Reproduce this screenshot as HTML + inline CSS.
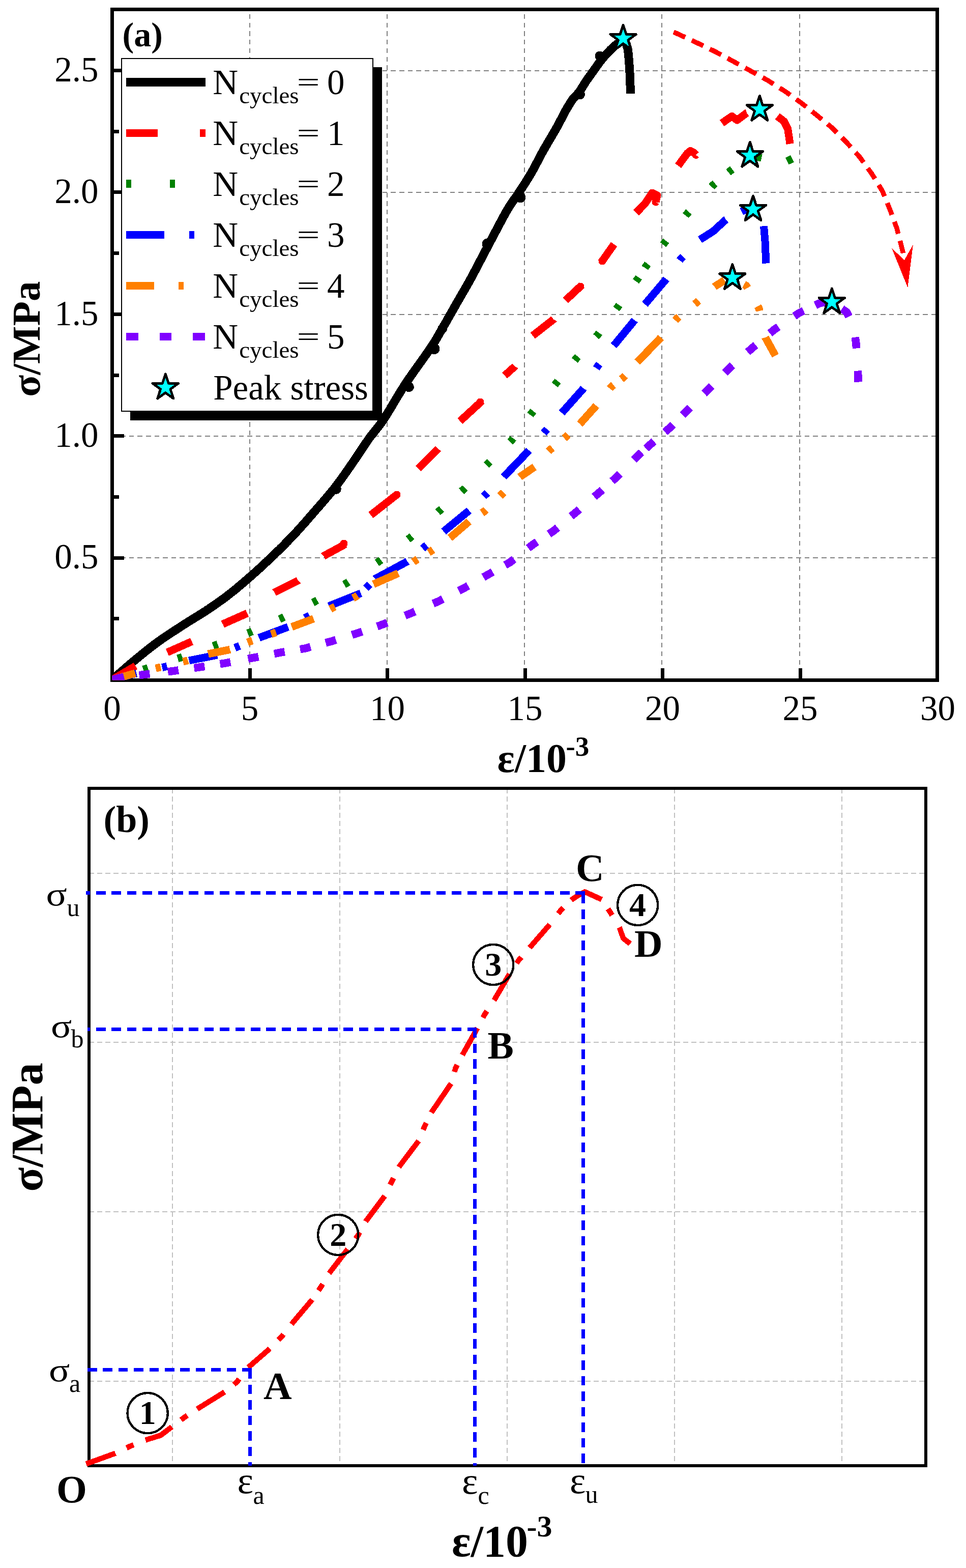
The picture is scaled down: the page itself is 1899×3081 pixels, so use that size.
<!DOCTYPE html>
<html><head><meta charset="utf-8"><title>Stress-strain curves</title>
<style>html,body{margin:0;padding:0;background:#fff;}svg{display:block;}
text{font-family:'Liberation Serif','Times New Roman',serif;}</style></head>
<body><svg width="1899" height="3081" viewBox="0 0 1899 3081" shape-rendering="crispEdges">
<rect x="0" y="0" width="1899" height="3081" fill="#fff"/>
<g stroke="#808080" stroke-width="2" fill="none" shape-rendering="crispEdges">
<path d="M491 18.5 V1333" stroke-dasharray="9.3,7.39" stroke-dashoffset="7.09"/>
<path d="M761 18.5 V1333" stroke-dasharray="9.3,7.39" stroke-dashoffset="7.09"/>
<path d="M1031 18.5 V1333" stroke-dasharray="9.3,7.39" stroke-dashoffset="7.09"/>
<path d="M1301 18.5 V1333" stroke-dasharray="9.3,7.39" stroke-dashoffset="7.09"/>
<path d="M1572 18.5 V1333" stroke-dasharray="9.3,7.39" stroke-dashoffset="7.09"/>
<path d="M220.5 139 H1839" stroke-dasharray="9.6,7"/>
<path d="M220.5 378 H1839" stroke-dasharray="9.6,7"/>
<path d="M220.5 617.5 H1839" stroke-dasharray="9.6,7"/>
<path d="M220.5 857 H1839" stroke-dasharray="9.6,7"/>
<path d="M220.5 1096 H1839" stroke-dasharray="9.6,7"/>
</g>
<g stroke="#000" stroke-width="7" fill="none">
<path d="M220.5 1096.1 H244"/>
<path d="M220.5 856.7 H244"/>
<path d="M220.5 617.3 H244"/>
<path d="M220.5 377.9 H244"/>
<path d="M220.5 138.5 H244"/>
<path d="M220.5 1215.8 H233.5"/>
<path d="M220.5 976.4 H233.5"/>
<path d="M220.5 737 H233.5"/>
<path d="M220.5 497.6 H233.5"/>
<path d="M220.5 258.2 H233.5"/>
<path d="M491 1336.5 V1313"/>
<path d="M761.5 1336.5 V1313"/>
<path d="M1032 1336.5 V1313"/>
<path d="M1302.5 1336.5 V1313"/>
<path d="M1573 1336.5 V1313"/>
</g>
<rect x="220.5" y="18.5" width="1621.5" height="1318" fill="none" stroke="#000" stroke-width="7" shape-rendering="crispEdges"/>
<clipPath id="ca"><rect x="220.5" y="18.5" width="1621.5" height="1318"/></clipPath>
<g clip-path="url(#ca)">
<path d="M220.5 1335.5 L221.7 1334.5 L223.2 1333.1 L225 1331.6 L227 1329.9 L229.2 1328 L231.4 1326 L233.8 1323.9 L236.2 1321.9 L238.6 1319.8 L240.8 1317.9 L243 1316 L244.9 1314.4 L246.6 1312.9 L248.3 1311.4 L250 1309.9 L251.7 1308.5 L253.4 1307 L255.2 1305.4 L257.1 1303.8 L259.2 1302.1 L261.4 1300.2 L263.8 1298.3 L266.4 1296.1 L268 1294.8 L269.7 1293.4 L271.4 1292 L273.2 1290.5 L275 1289 L276.9 1287.5 L278.9 1285.9 L280.8 1284.3 L282.9 1282.6 L284.9 1280.9 L287 1279.2 L289.1 1277.5 L291.3 1275.8 L293.5 1274.1 L295.7 1272.3 L297.9 1270.6 L300.2 1268.9 L302.4 1267.2 L304.7 1265.5 L307 1263.8 L309.3 1262.1 L311.3 1260.7 L313.3 1259.3 L315.3 1257.8 L317.4 1256.4 L319.5 1254.9 L321.7 1253.5 L323.8 1252 L326 1250.5 L328.3 1249 L330.5 1247.5 L332.7 1246 L335 1244.5 L337.2 1243.1 L339.5 1241.6 L341.7 1240.1 L344 1238.7 L346.2 1237.2 L348.4 1235.8 L350.6 1234.4 L352.7 1233 L354.8 1231.6 L356.9 1230.3 L358.9 1229 L360.9 1227.7 L362.9 1226.4 L365.3 1224.9 L367.6 1223.4 L369.9 1221.9 L372.1 1220.5 L374.4 1219.2 L376.5 1217.8 L378.7 1216.5 L380.8 1215.2 L382.9 1213.9 L385 1212.7 L387 1211.4 L389.1 1210.1 L391.1 1208.9 L393.2 1207.6 L395.2 1206.3 L397.3 1205 L399.4 1203.7 L401.5 1202.4 L403.6 1201 L405.7 1199.6 L407.7 1198.2 L409.8 1196.9 L411.8 1195.5 L413.9 1194.1 L415.9 1192.7 L418 1191.4 L420 1190 L422 1188.6 L424.1 1187.1 L426.1 1185.7 L428.2 1184.3 L430.2 1182.8 L432.3 1181.4 L434.3 1179.9 L436.3 1178.5 L438.4 1177 L440.4 1175.5 L442.5 1173.9 L444.5 1172.4 L446.6 1170.9 L448.6 1169.3 L450.5 1167.8 L452.5 1166.3 L454.4 1164.7 L456.4 1163.2 L458.3 1161.6 L460.3 1160.1 L462.2 1158.5 L464.2 1156.9 L466.1 1155.3 L468.1 1153.6 L470 1152 L471.9 1150.4 L473.9 1148.7 L475.8 1147.1 L477.8 1145.4 L479.7 1143.7 L481.7 1142.1 L483.6 1140.4 L485.6 1138.7 L487.5 1137 L489.5 1135.3 L491.4 1133.6 L493.3 1132 L495.1 1130.3 L497 1128.7 L498.9 1127 L500.7 1125.4 L502.6 1123.7 L504.5 1122 L506.3 1120.3 L508.2 1118.7 L510.1 1117 L511.9 1115.3 L513.8 1113.5 L515.6 1111.8 L517.5 1110.1 L519.4 1108.4 L521.2 1106.6 L523.1 1104.9 L525 1103.1 L526.8 1101.4 L528.7 1099.6 L530.6 1097.9 L532.4 1096.1 L534.3 1094.3 L536.1 1092.6 L537.9 1090.9 L539.7 1089.1 L541.4 1087.4 L543.2 1085.7 L545 1084 L546.8 1082.2 L548.6 1080.5 L550.4 1078.7 L552.1 1076.9 L553.9 1075.2 L555.7 1073.4 L557.5 1071.6 L559.3 1069.8 L561 1068 L562.8 1066.2 L564.6 1064.4 L566.4 1062.6 L568.2 1060.7 L570 1058.9 L571.7 1057 L573.5 1055.2 L575.3 1053.3 L577.1 1051.4 L578.8 1049.6 L580.5 1047.7 L582.3 1045.9 L584 1044 L585.7 1042.1 L587.5 1040.2 L589.2 1038.2 L590.9 1036.3 L592.7 1034.4 L594.4 1032.4 L596.2 1030.5 L597.9 1028.5 L599.6 1026.5 L601.4 1024.6 L603.1 1022.6 L604.8 1020.6 L606.5 1018.7 L608.2 1016.7 L610 1014.8 L611.6 1012.8 L613.3 1010.9 L615 1008.9 L616.7 1007 L618.4 1005.1 L620 1003.2 L621.7 1001.2 L623.4 999.3 L625.1 997.3 L626.8 995.4 L628.5 993.5 L630.2 991.6 L631.8 989.6 L633.5 987.7 L635.2 985.8 L636.8 983.9 L638.5 982 L640.1 980.1 L641.7 978.2 L643.4 976.3 L645 974.4 L646.6 972.5 L648.2 970.5 L649.8 968.6 L651.4 966.7 L653 964.7 L654.6 962.8 L656.2 960.8 L657.7 958.8 L659.3 956.8 L660.9 954.8 L662.4 952.7 L664 950.7 L665.5 948.6 L667.1 946.5 L668.6 944.4 L670.1 942.3 L671.7 940.2 L673.2 938.1 L674.7 936 L676.2 933.9 L677.7 931.7 L679.2 929.6 L680.7 927.5 L682.1 925.4 L683.6 923.3 L685.1 921.2 L686.5 919.1 L688 917 L689.4 914.9 L690.8 912.9 L692.2 910.8 L693.6 908.8 L695 906.8 L696.6 904.5 L698.1 902.3 L699.7 900 L701.2 897.7 L702.7 895.5 L704.2 893.3 L705.7 891 L707.2 888.8 L708.6 886.6 L710.1 884.4 L711.5 882.2 L713 880.1 L714.4 877.9 L715.8 875.8 L717.2 873.7 L718.6 871.6 L720.1 869.5 L721.5 867.4 L722.9 865.4 L724.3 863.4 L725.7 861.4 L727.3 859.2 L728.9 857.1 L730.4 855.1 L731.9 853.2 L733.4 851.3 L734.9 849.5 L736.3 847.7 L737.8 846 L739.2 844.2 L740.7 842.3 L742.2 840.4 L743.8 838.5 L745.4 836.4 L747 834.2 L748.7 831.9 L750.5 829.4 L752.4 826.8 L754.3 823.9 L755.4 822.2 L756.6 820.4 L757.7 818.6 L758.9 816.7 L760.1 814.8 L761.3 812.9 L762.6 810.9 L763.8 808.8 L765.1 806.7 L766.4 804.6 L767.7 802.4 L769 800.2 L770.3 798 L771.7 795.8 L773 793.5 L774.4 791.2 L775.7 788.9 L777.1 786.6 L778.5 784.3 L779.9 781.9 L781.3 779.6 L782.7 777.3 L784.1 774.9 L785.6 772.6 L787 770.2 L788.4 767.9 L789.9 765.6 L791.3 763.3 L792.8 761 L794.2 758.8 L795.7 756.5 L797.1 754.3 L798.5 752.2 L799.9 750.1 L801.3 747.9 L802.8 745.8 L804.3 743.6 L805.9 741.4 L807.4 739.1 L809 736.9 L810.6 734.6 L812.1 732.3 L813.8 730.1 L815.4 727.8 L817 725.5 L818.6 723.3 L820.2 721 L821.8 718.7 L823.4 716.5 L825 714.3 L826.6 712 L828.2 709.9 L829.7 707.7 L831.3 705.5 L832.8 703.4 L834.3 701.3 L835.7 699.3 L837.1 697.3 L838.5 695.3 L839.9 693.4 L841.2 691.5 L842.5 689.7 L843.7 687.9 L844.9 686.2 L846 684.5 L847.1 682.9 L849.2 679.7 L851.1 676.8 L852.8 674.2 L854.3 671.8 L855.7 669.6 L856.9 667.5 L858.1 665.5 L859.2 663.7 L860.2 661.8 L861.3 660 L862.3 658.1 L863.4 656.2 L864.5 654.2 L865.8 652 L867.1 649.7 L868.6 647.1 L869.7 645.2 L870.8 643.3 L872 641.3 L873.1 639.2 L874.3 637.2 L875.5 635.1 L876.8 632.9 L878 630.8 L879.2 628.6 L880.5 626.3 L881.8 624.1 L883 621.9 L884.3 619.6 L885.6 617.3 L886.9 615.1 L888.2 612.8 L889.5 610.5 L890.8 608.2 L892.1 606 L893.3 603.7 L894.6 601.5 L895.9 599.3 L897.1 597.1 L898.3 594.9 L899.6 592.8 L900.8 590.7 L902 588.6 L903.2 586.6 L904.4 584.5 L905.6 582.5 L906.8 580.4 L908 578.4 L909.1 576.3 L910.3 574.2 L911.6 572.2 L912.8 570.1 L914 568 L915.2 565.8 L916.5 563.6 L917.7 561.4 L919 559.2 L920.3 556.9 L921.6 554.5 L923 552.1 L924.3 549.6 L925.7 547.1 L926.8 545.1 L927.9 543.1 L929 541 L930.1 538.9 L931.2 536.8 L932.4 534.7 L933.5 532.5 L934.7 530.3 L935.9 528 L937.1 525.8 L938.3 523.5 L939.5 521.2 L940.7 518.9 L941.9 516.6 L943.1 514.2 L944.3 511.9 L945.6 509.5 L946.8 507.2 L948 504.8 L949.2 502.5 L950.5 500.1 L951.7 497.7 L952.9 495.4 L954.1 493.1 L955.4 490.7 L956.6 488.4 L957.8 486.1 L959 483.8 L960.2 481.5 L961.4 479.3 L962.6 477 L963.8 474.8 L965 472.4 L966.3 470.1 L967.5 467.8 L968.8 465.4 L970 463 L971.3 460.6 L972.6 458.2 L973.8 455.8 L975.1 453.4 L976.4 451 L977.6 448.6 L978.9 446.2 L980.1 443.9 L981.4 441.5 L982.6 439.2 L983.8 436.9 L985.1 434.7 L986.3 432.4 L987.4 430.3 L988.6 428.1 L989.7 426 L990.9 424 L992 422 L993.1 420 L994.1 418.1 L995.1 416.3 L996.1 414.6 L997.1 412.9 L998.9 409.8 L1000.7 406.9 L1002.3 404.4 L1003.8 402 L1005.2 399.9 L1006.6 397.9 L1007.9 396 L1009.2 394.2 L1010.4 392.4 L1011.7 390.7 L1013 388.9 L1014.3 387 L1015.7 385.1 L1017.1 383 L1018.6 380.7 L1019.9 378.7 L1021.2 376.7 L1022.6 374.6 L1023.9 372.6 L1025.3 370.5 L1026.7 368.4 L1028.1 366.3 L1029.5 364.1 L1030.9 361.9 L1032.3 359.7 L1033.7 357.5 L1035.1 355.3 L1036.6 353 L1038 350.7 L1039.4 348.4 L1040.8 346.1 L1042.2 343.8 L1043.6 341.4 L1044.8 339.3 L1046 337.2 L1047.2 335.1 L1048.4 333 L1049.6 330.8 L1050.7 328.6 L1051.9 326.3 L1053.1 324.1 L1054.3 321.8 L1055.5 319.6 L1056.7 317.3 L1057.9 315 L1059.1 312.7 L1060.3 310.5 L1061.5 308.2 L1062.6 306 L1063.8 303.7 L1065 301.5 L1066.2 299.3 L1067.4 297.1 L1068.6 295 L1069.9 292.7 L1071.3 290.3 L1072.6 288 L1074 285.6 L1075.3 283.3 L1076.7 281 L1078.1 278.7 L1079.4 276.3 L1080.8 274.1 L1082.1 271.8 L1083.5 269.5 L1084.8 267.3 L1086.1 265 L1087.4 262.8 L1088.7 260.6 L1090 258.5 L1091.2 256.3 L1092.4 254.2 L1093.6 252.1 L1095 249.6 L1096.3 247.2 L1097.7 244.7 L1099 242.2 L1100.3 239.8 L1101.5 237.4 L1102.8 235 L1104 232.6 L1105.2 230.3 L1106.4 228.1 L1107.5 225.9 L1108.6 223.7 L1109.7 221.7 L1110.8 219.7 L1111.9 217.7 L1112.9 215.9 L1114.6 212.8 L1116.3 210 L1117.8 207.5 L1119.3 205.1 L1120.7 202.8 L1122 200.7 L1123.4 198.7 L1124.7 196.7 L1126.1 194.8 L1127.8 192.6 L1129.5 190.7 L1131.1 189 L1132.8 187.4 L1134.4 185.7 L1136.2 183.8 L1138 181.5 L1139.4 179.6 L1140.8 177.5 L1142.2 175.3 L1143.7 173 L1145.2 170.6 L1146.7 168.2 L1148.2 165.7 L1149.7 163.4 L1151.2 161.1 L1152.6 159 L1154.1 156.8 L1155.6 154.6 L1157.1 152.5 L1158.6 150.5 L1160 148.5 L1161.5 146.5 L1162.9 144.5 L1164.3 142.5 L1165.8 140.5 L1167.3 138.4 L1168.7 136.3 L1170.2 134.2 L1171.7 132.1 L1173.1 130 L1174.6 128 L1176.1 125.9 L1177.5 123.9 L1179 122 L1180.7 119.9 L1182.3 117.8 L1184 115.7 L1185.6 113.7 L1187.3 111.8 L1189 109.8 L1190.6 107.9 L1192.3 106.1 L1194.2 104 L1196.1 102.1 L1198 100.1 L1199.8 98.2 L1201.7 96.4 L1203.6 94.6 L1205.5 92.9 L1207.8 90.9 L1210.1 88.9 L1212.4 87 L1214.7 85.3 L1216.8 83.7 L1218.7 82.3 L1221.9 79.6 L1224.5 77.6 L1227 78 L1228.1 79.3 L1229.2 81.3 L1230.2 83.7 L1231.3 86.5 L1232.2 89.5 L1233.1 92.6 L1233.8 95.6 L1234.3 98 L1234.7 100.4 L1235 103 L1235.3 105.6 L1235.5 108.3 L1235.7 111 L1236 113.8 L1236.2 116.6 L1236.4 119.4 L1236.6 121.9 L1236.8 124.3 L1237 126.8 L1237.2 129.2 L1237.4 131.7 L1237.6 134.3 L1237.7 136.9 L1237.9 139.7 L1238 142.7 L1238.2 145.8 L1238.3 148.1 L1238.4 150.6 L1238.5 153.3 L1238.6 156.2 L1238.7 159.1 L1238.8 162.1 L1238.9 165.2 L1239 168.1 L1239 171 L1239.1 173.8 L1239.2 176.4 L1239.2 178.8 L1239.3 180.9 L1239.4 182.7 L1239.4 184.2" fill="none" stroke="#000" stroke-width="17" stroke-linejoin="round" stroke-linecap="butt"/>
<circle cx="660.8" cy="961" r="10" fill="#000"/>
<circle cx="803.8" cy="760.2" r="10" fill="#000"/>
<circle cx="853.5" cy="685.2" r="11" fill="#000"/>
<circle cx="869.7" cy="645.7" r="9.5" fill="#000"/>
<circle cx="958" cy="479.4" r="10.5" fill="#000"/>
<circle cx="1023" cy="388" r="10.5" fill="#000"/>
<circle cx="1140" cy="185.5" r="10" fill="#000"/>
<circle cx="1179" cy="110" r="9.5" fill="#000"/>
<path d="M220.5 1335.5 L266.4 1308.6 L328.9 1281.8 L377.1 1260.4 L437.9 1226.4 L486.1 1205 L539.6 1163.9 L586.1 1140.7 L636.1 1092.5 L678.9 1069.3 L728.9 1012.1 L781.1 971.1 L822.1 921.1 L861.4 882 L904.3 827.5 L947.1 788.2 L992 738 L1012 720 L1047.1 659.6 L1088.2 627.5 L1111.7 590.2 L1143.5 560.5 L1181.6 516.1 L1207 480.1 L1250.6 418 L1267.8 400.4 L1282 379 L1292 384 L1289 397 L1333 325.8 L1351.1 301.3 L1357 296.5 L1364 300 L1368 304.5 L1419 242 L1438.7 228.4 L1449 236 L1468 222 L1493 214 L1528.2 228.4 L1541.4 238.7 L1548.7 253.4 L1553.1 282.7" fill="none" stroke="#FF0000" stroke-width="15" stroke-linecap="butt" stroke-linejoin="round" stroke-dasharray="53.2,68,52.7,69.7,52.7,67.5,52,69.4,48.7,76,66.4,64.7,55.4,69.4,58.1,67.4,26.9,69.9,52.1,44.1,43.5,58.5,44.1,75.9,74.8,83.7,51.9,80.7,60.3,64.3,62.8,10000"/>
<circle cx="676" cy="1068" r="7.5" fill="#FF0000"/>
<circle cx="780" cy="972" r="7.5" fill="#FF0000"/>
<circle cx="944" cy="790" r="7.5" fill="#FF0000"/>
<circle cx="1141" cy="563" r="7.5" fill="#FF0000"/>
<circle cx="1184" cy="513" r="7.5" fill="#FF0000"/>
<path d="M220.5 1335.5 L286.1 1313.9 L353.9 1292.5 L423.6 1267.5 L491.4 1242.5 L553.9 1214.6 L619.3 1181.8 L680.7 1146.1 L745 1103.2 L806.1 1056.8 L864.3 1003.2 L910.7 962.1 L959.6 910.4 L1006 865 L1045.4 811.4 L1093.6 752.5 L1132.9 704.3 L1175 657.9 L1214.4 603.2 L1253 548.9 L1270.5 522.4 L1306.5 476.9 L1350.9 419.8 L1402 363.4 L1435.8 335.5 L1474.3 306 L1492.3 309.1 L1540 320 L1552.4 314.3 L1575 303" fill="none" stroke="#008000" stroke-width="15" stroke-linecap="butt" stroke-linejoin="round" stroke-dasharray="0,64.3,9.5,61.6,9.5,64.5,9.5,62.8,9.5,58.9,9.5,63.7,9.5,61.5,9.5,67.8,9.5,67.2,9.5,69.6,9.5,52.5,9.5,61.7,9.5,55.4,9.5,57,9.5,66.6,9.5,52.7,9.5,53.2,9.5,57.9,9.5,57.1,9.5,22.3,9.5,48.5,9.5,62.8,9.5,66.6,9.5,34.3,9.5,57,10,52.1,11,10000"/>
<path d="M220.5 1335.5 L268.2 1322.9 L323.6 1310.4 L371.8 1297.9 L427.1 1287.1 L466.4 1271 L509.3 1253.2 L566.4 1231.8 L604 1212 L646.8 1190.7 L709.3 1165.7 L723 1152 L737.9 1137.1 L800.7 1103.2 L834.6 1074.6 L872.1 1044.3 L922.1 1003.2 L954.3 972.1 L990 937.1 L1040 885 L1072.1 847.1 L1104.3 811.4 L1147.1 763.2 L1175 719.5 L1206.4 679.3 L1247.5 629.3 L1267.7 598 L1309.8 548.3 L1339 507.7 L1376 471 L1402 454.4 L1427 431.6 L1462.2 413.3 L1481 411 L1501.5 444.1 L1504 473.5 L1505.9 517.5" fill="none" stroke="#0000FF" stroke-width="15" stroke-linecap="butt" stroke-linejoin="round" stroke-dasharray="49.3,51.8,10,44.8,56.3,37.5,10,41.4,61,37.5,10,42.8,67.3,14.4,10,16.1,71.4,39.4,10,43.2,64.7,39.8,10,45,72.2,44.7,10,43.1,64.5,46.8,10,46,64.7,37.3,65.1,45,10,47.1,64.7,34.7,10,52.9,73.5,10000"/>
<path d="M220.5 1335.5 L266 1322.9 L311 1312 L364.6 1299 L409.3 1285 L452 1276.4 L491.4 1260.4 L537.9 1244.3 L573.6 1231.8 L616.4 1215.7 L653.9 1194.3 L698.6 1172.9 L734.3 1147.9 L782.9 1126.4 L816.8 1101.4 L847.1 1082.9 L884.6 1056.8 L922.1 1024.6 L951.8 1005 L986.4 971.1 L1022.1 937.1 L1050.7 917.5 L1082 883.2 L1113.2 857.9 L1140 832.9 L1172.1 797.1 L1202.1 759.6 L1225.4 741.8 L1252.9 711.4 L1299.3 663.2 L1330.7 625.7 L1369.6 594.3 L1404.6 563.2 L1424.3 550.7 L1440 546 L1467.1 561.4 L1492.1 606.1 L1504.6 663.2 L1524.3 698.9" fill="none" stroke="#FF8000" stroke-width="15" stroke-linecap="butt" stroke-linejoin="round" stroke-dasharray="47.2,41.3,10,45.2,10,41.8,43.6,37.5,10,39.2,10,32.8,45.7,38.2,10,39.6,10,38.6,53.1,37.1,10,25.5,10,40.7,49.4,30.6,10,38.4,10,44.3,34.7,41.4,10,30.2,10,31.7,48.1,43,10,19.3,10,36,66.9,43.9,10,40,10,41.8,23.3,42.6,10,41.2,10,53.5,40.8,10000"/>
<path d="M220.5 1335.5 L243.8 1330 L284 1325.5 L340.5 1318.5 L392 1311 L443 1303 L498 1292.5 L549.3 1282.5 L600.4 1273.9 L650.4 1260.4 L702.1 1244.3 L751.5 1227.3 L806.1 1205.7 L861.4 1181.8 L911.4 1156.1 L959.6 1128.9 L1002.5 1105 L1047.1 1070.4 L1088.2 1043.2 L1131.1 1007.5 L1176.4 969.3 L1211.4 938.2 L1253.6 895.7 L1277.9 873.9 L1315.4 841.8 L1349.3 807.9 L1392.1 765.7 L1432.5 724.6 L1477.9 684.6 L1521.8 647.9 L1570.6 615.1 L1612.9 595 L1635.3 593.5 L1664.2 613 L1678 640 L1682.8 673.9 L1687 740 L1687.5 770" fill="none" stroke="#8000FF" stroke-width="15.5" stroke-linecap="butt" stroke-linejoin="round" stroke-dasharray="23.9,30,21,35.9,21,31,21,30.6,21,35,21,31.3,21,30.8,21,30.8,21,33.1,21,31.2,21,37.7,21,39.2,21,35.2,21,34.3,21,28.1,21,35.4,21,28.3,21,34.8,21,38.3,21,25.8,21,38.9,21,11.6,21,28.4,21,26.9,21,39.1,21,36.6,21,39.5,21,36.2,21,37.8,21,25.8,21,36.3,21,43.1,22,44.2,22,10000"/>
<path d="M1225.1 49 L1231.1 67.4 L1250.4 67.4 L1234.8 78.7 L1240.7 97.1 L1225.1 85.8 L1209.5 97.1 L1215.4 78.7 L1199.8 67.4 L1219.1 67.4Z" fill="#00FFFF" stroke="#000" stroke-width="4.8" stroke-linejoin="round"/>
<path d="M1493.3 188.2 L1499.3 206.6 L1518.6 206.6 L1503 217.9 L1508.9 236.3 L1493.3 225 L1477.7 236.3 L1483.6 217.9 L1468 206.6 L1487.3 206.6Z" fill="#00FFFF" stroke="#000" stroke-width="4.8" stroke-linejoin="round"/>
<path d="M1474.3 279.2 L1480.3 297.6 L1499.6 297.6 L1484 308.9 L1489.9 327.3 L1474.3 316 L1458.7 327.3 L1464.6 308.9 L1449 297.6 L1468.3 297.6Z" fill="#00FFFF" stroke="#000" stroke-width="4.8" stroke-linejoin="round"/>
<path d="M1480.5 384.8 L1486.5 403.2 L1505.8 403.2 L1490.2 414.5 L1496.1 432.9 L1480.5 421.6 L1464.9 432.9 L1470.8 414.5 L1455.2 403.2 L1474.5 403.2Z" fill="#00FFFF" stroke="#000" stroke-width="4.8" stroke-linejoin="round"/>
<path d="M1439.9 519.4 L1445.9 537.8 L1465.2 537.8 L1449.6 549.1 L1455.5 567.5 L1439.9 556.2 L1424.3 567.5 L1430.2 549.1 L1414.6 537.8 L1433.9 537.8Z" fill="#00FFFF" stroke="#000" stroke-width="4.8" stroke-linejoin="round"/>
<path d="M1635.3 566.9 L1641.3 585.3 L1660.6 585.3 L1645 596.6 L1650.9 615 L1635.3 603.7 L1619.7 615 L1625.6 596.6 L1610 585.3 L1629.3 585.3Z" fill="#00FFFF" stroke="#000" stroke-width="4.8" stroke-linejoin="round"/>
<path d="M1324.3 62.9 L1347.5 73.6 L1372.5 85.2 L1407.3 102.1 L1442.1 120.9 L1476.1 139.6 L1510 158.4 L1543.9 179.9 L1575.2 202.2 L1605.5 226.3 L1635.9 251.2 L1663.6 279 L1690.1 308.7 L1714.1 341.8 L1734.8 375.7 L1749.6 412 L1762.9 448.4 L1772.8 486.4 L1776 500" fill="none" stroke="#FF0000" stroke-width="9.5" stroke-dasharray="25,14.3" stroke-linejoin="round"/>
<path d="M1752.9 487.3 L1777.7 511.2 L1794.8 481.2 L1784.4 565 Z" fill="#FF0000"/>
</g>
<rect x="256" y="132" width="495" height="694" fill="#000"/>
<rect x="239" y="115" width="494" height="693" fill="#fff" stroke="#000" stroke-width="2"/>
<g stroke-width="15" fill="none">
<path d="M247.5 161.7 H404.2" stroke="#000" stroke-width="17"/>
<path d="M247.5 261.6 H310 M393 261.6 H404.2" stroke="#FF0000"/>
<path d="M247.5 361.3 H258 M334.1 361.3 H343.9" stroke="#008000" stroke-width="16"/>
<path d="M247.5 461.3 H322.9 M372 461.3 H381.8" stroke="#0000FF"/>
<path d="M247.5 561.2 H302.9 M350.9 561.2 H360.7" stroke="#FF8000"/>
<path d="M247.5 661.7 H272 M314.1 661.7 H336.9 M379 661.7 H402.8" stroke="#8000FF"/>
</g>
<path d="M325.3 734.9 L331.3 753.3 L350.6 753.3 L335 764.6 L340.9 783 L325.3 771.7 L309.7 783 L315.6 764.6 L300 753.3 L319.3 753.3Z" fill="#00FFFF" stroke="#000" stroke-width="4.8" stroke-linejoin="round"/>
<g font-family="'Liberation Serif','Times New Roman',serif" fill="#000">
<text x="418.2" y="185.3" font-size="69" text-anchor="start" >N</text>
<text x="470.2" y="203.1" font-size="47" text-anchor="start" >cycles</text>
<text x="0" y="0" font-size="69" transform="translate(583.6 179) scale(1.16 0.78)">=</text>
<text x="643" y="185.3" font-size="69" text-anchor="start" >0</text>
<text x="418.2" y="285.3" font-size="69" text-anchor="start" >N</text>
<text x="470.2" y="303.1" font-size="47" text-anchor="start" >cycles</text>
<text x="0" y="0" font-size="69" transform="translate(583.6 279) scale(1.16 0.78)">=</text>
<text x="643" y="285.3" font-size="69" text-anchor="start" >1</text>
<text x="418.2" y="385.3" font-size="69" text-anchor="start" >N</text>
<text x="470.2" y="403.1" font-size="47" text-anchor="start" >cycles</text>
<text x="0" y="0" font-size="69" transform="translate(583.6 379) scale(1.16 0.78)">=</text>
<text x="643" y="385.3" font-size="69" text-anchor="start" >2</text>
<text x="418.2" y="485.3" font-size="69" text-anchor="start" >N</text>
<text x="470.2" y="503.1" font-size="47" text-anchor="start" >cycles</text>
<text x="0" y="0" font-size="69" transform="translate(583.6 479) scale(1.16 0.78)">=</text>
<text x="643" y="485.3" font-size="69" text-anchor="start" >3</text>
<text x="418.2" y="585.3" font-size="69" text-anchor="start" >N</text>
<text x="470.2" y="603.1" font-size="47" text-anchor="start" >cycles</text>
<text x="0" y="0" font-size="69" transform="translate(583.6 579) scale(1.16 0.78)">=</text>
<text x="643" y="585.3" font-size="69" text-anchor="start" >4</text>
<text x="418.2" y="685.3" font-size="69" text-anchor="start" >N</text>
<text x="470.2" y="703.1" font-size="47" text-anchor="start" >cycles</text>
<text x="0" y="0" font-size="69" transform="translate(583.6 679) scale(1.16 0.78)">=</text>
<text x="643" y="685.3" font-size="69" text-anchor="start" >5</text>
<text x="419.2" y="784.6" font-size="69" text-anchor="start" >Peak stress</text>
<text x="193.5" y="1117.3" font-size="69" text-anchor="end" >0.5</text>
<text x="193.5" y="877.9" font-size="69" text-anchor="end" >1.0</text>
<text x="193.5" y="638.5" font-size="69" text-anchor="end" >1.5</text>
<text x="193.5" y="399.1" font-size="69" text-anchor="end" >2.0</text>
<text x="193.5" y="159.7" font-size="69" text-anchor="end" >2.5</text>
<text x="220.5" y="1414.9" font-size="69" text-anchor="middle" >0</text>
<text x="491" y="1414.9" font-size="69" text-anchor="middle" >5</text>
<text x="761.5" y="1414.9" font-size="69" text-anchor="middle" >10</text>
<text x="1032" y="1414.9" font-size="69" text-anchor="middle" >15</text>
<text x="1302.5" y="1414.9" font-size="69" text-anchor="middle" >20</text>
<text x="1573" y="1414.9" font-size="69" text-anchor="middle" >25</text>
<text x="1843.5" y="1414.9" font-size="69" text-anchor="middle" >30</text>
<text x="977.6" y="1517.2" font-size="80" font-weight="bold" text-anchor="start" >ε/10</text>
<text x="1112.5" y="1485" font-size="55" font-weight="bold" text-anchor="start" >-3</text>
<text transform="translate(77.6 779.8) rotate(-90)" x="0" y="0" font-size="79" font-weight="bold">σ/MPa</text>
<text x="240.5" y="90.5" font-size="68" font-weight="bold" text-anchor="start" >(a)</text>
</g>
<g stroke="#C0C0C0" stroke-width="2" stroke-dasharray="9.5,6.5" fill="none" shape-rendering="crispEdges">
<path d="M339.3 1549 V2876.5"/>
<path d="M668 1549 V2876.5"/>
<path d="M997 1549 V2876.5"/>
<path d="M1326 1549 V2876.5"/>
<path d="M1654.8 1549 V2876.5"/>
<path d="M175 1716 H1817"/>
<path d="M175 2048 H1817"/>
<path d="M175 2381 H1817"/>
<path d="M175 2714 H1817"/>
</g>
<rect x="175" y="1549" width="1645" height="1330.5" fill="none" stroke="#000" stroke-width="6" shape-rendering="crispEdges"/>
<path d="M169.3 2876.5 L226.7 2855.6 L255.6 2841.8 L285.9 2829.6 L315.6 2820.4 L337.8 2803.7 L362 2785.4 L387.8 2768.5 L441.5 2735.2 L465.6 2715.6 L487.8 2687 L530.4 2650 L552.6 2627.8 L573 2601.9 L613.7 2553.7 L630.4 2529.6 L647 2501.9 L683.5 2454.5 L703.6 2427.8 L718.9 2400 L756.4 2350 L770.3 2321.4 L784.2 2293 L823 2241.7 L834.7 2213 L848 2186 L886.9 2129 L895.5 2099 L909 2073 L938.5 2020 L953 1992.9 L971.3 1965.5 L1001.7 1913.8 L1019.9 1886.4 L1041.2 1862.1 L1080.8 1816.5 L1102.1 1789.1 L1123 1768.5 L1137 1759 L1149.9 1752.5 L1183 1767.5 L1199.4 1792.1 L1217.7 1822.5 L1225.3 1843.8 L1239 1854.5" fill="none" stroke="#FF0000" stroke-width="10.5" stroke-linecap="butt" stroke-linejoin="round" stroke-dasharray="61.1,24.5,15,25.2,58.9,22.8,15,23.3,63.2,23.6,15,28.7,56.4,23.9,15,25.5,63.1,21.8,15,24.8,59.8,25.9,15,24.2,62.5,24.3,15,24.1,64.3,23.5,15,22.6,69,23.7,15,21.8,60.7,23.2,15,25.4,60,25.4,15,24.8,60.4,27.2,15,21.8,67.7,22.1,15,28,40,10000"/>
<g stroke="#0000FF" stroke-width="7" fill="none">
<path d="M1150 1754.3 H169" stroke-dasharray="18.6,11.8"/>
<path d="M937.2 2022.9 H172" stroke-dasharray="18.6,11.8"/>
<path d="M494.6 2691.2 H172" stroke-dasharray="18.6,11.8"/>
<path d="M1146.5 1756.5 V2880" stroke-dasharray="18.5,12.05"/>
<path d="M933.2 2020 V2880" stroke-dasharray="18.8,11.75"/>
<path d="M491.6 2690.2 V2880" stroke-dasharray="18.3,12.2"/>
</g>
<circle cx="290.2" cy="2776.6" r="39.6" fill="none" stroke="#000" stroke-width="4.4"/>
<circle cx="664.7" cy="2426.4" r="39.6" fill="none" stroke="#000" stroke-width="4.4"/>
<circle cx="969.7" cy="1895.5" r="39.6" fill="none" stroke="#000" stroke-width="4.4"/>
<circle cx="1253.6" cy="1778.4" r="39.6" fill="none" stroke="#000" stroke-width="4.4"/>
<g font-family="'Liberation Serif','Times New Roman',serif" fill="#000">
<text x="290.2" y="2798.1" font-size="66" font-weight="bold" text-anchor="middle" >1</text>
<text x="664.7" y="2447.9" font-size="66" font-weight="bold" text-anchor="middle" >2</text>
<text x="969.7" y="1917" font-size="66" font-weight="bold" text-anchor="middle" >3</text>
<text x="1253.6" y="1799.9" font-size="66" font-weight="bold" text-anchor="middle" >4</text>
<text x="518" y="2749.3" font-size="77" font-weight="bold" text-anchor="start" >A</text>
<text x="958.5" y="2080.2" font-size="77" font-weight="bold" text-anchor="start" >B</text>
<text x="1132" y="1731" font-size="77" font-weight="bold" text-anchor="start" >C</text>
<text x="1247" y="1880.3" font-size="77" font-weight="bold" text-anchor="start" >D</text>
<text x="111.1" y="2952" font-size="77" font-weight="bold" text-anchor="start" >O</text>
<text x="0" y="0" font-size="66.5" transform="translate(90.6 1779) scale(1.15 1)">σ</text>
<text x="0" y="0" font-size="66.5" transform="translate(99.9 2037.7) scale(1.15 1)">σ</text>
<text x="0" y="0" font-size="66.5" transform="translate(96 2714.2) scale(1.15 1)">σ</text>
<text x="131.5" y="1799.5" font-size="50" text-anchor="start" >u</text>
<text x="139.5" y="2057.5" font-size="50" text-anchor="start" >b</text>
<text x="136" y="2735" font-size="50" text-anchor="start" >a</text>
<text x="466.5" y="2934" font-size="75" text-anchor="start" >ε</text>
<text x="497.5" y="2955" font-size="50" text-anchor="start" >a</text>
<text x="908" y="2934.5" font-size="75" text-anchor="start" >ε</text>
<text x="939.5" y="2955" font-size="50" text-anchor="start" >c</text>
<text x="1120" y="2933.5" font-size="75" text-anchor="start" >ε</text>
<text x="1150.5" y="2952.5" font-size="50" text-anchor="start" >u</text>
<text x="888" y="3057.6" font-size="88" font-weight="bold" text-anchor="start" >ε/10</text>
<text x="1035.5" y="3019" font-size="60" font-weight="bold" text-anchor="start" >-3</text>
<text transform="translate(83.2 2341.5) rotate(-90)" x="0" y="0" font-size="88" font-weight="bold">σ/MPa</text>
<text x="203.5" y="1635" font-size="74" font-weight="bold" text-anchor="start" >(b)</text>
</g>
</svg></body></html>
